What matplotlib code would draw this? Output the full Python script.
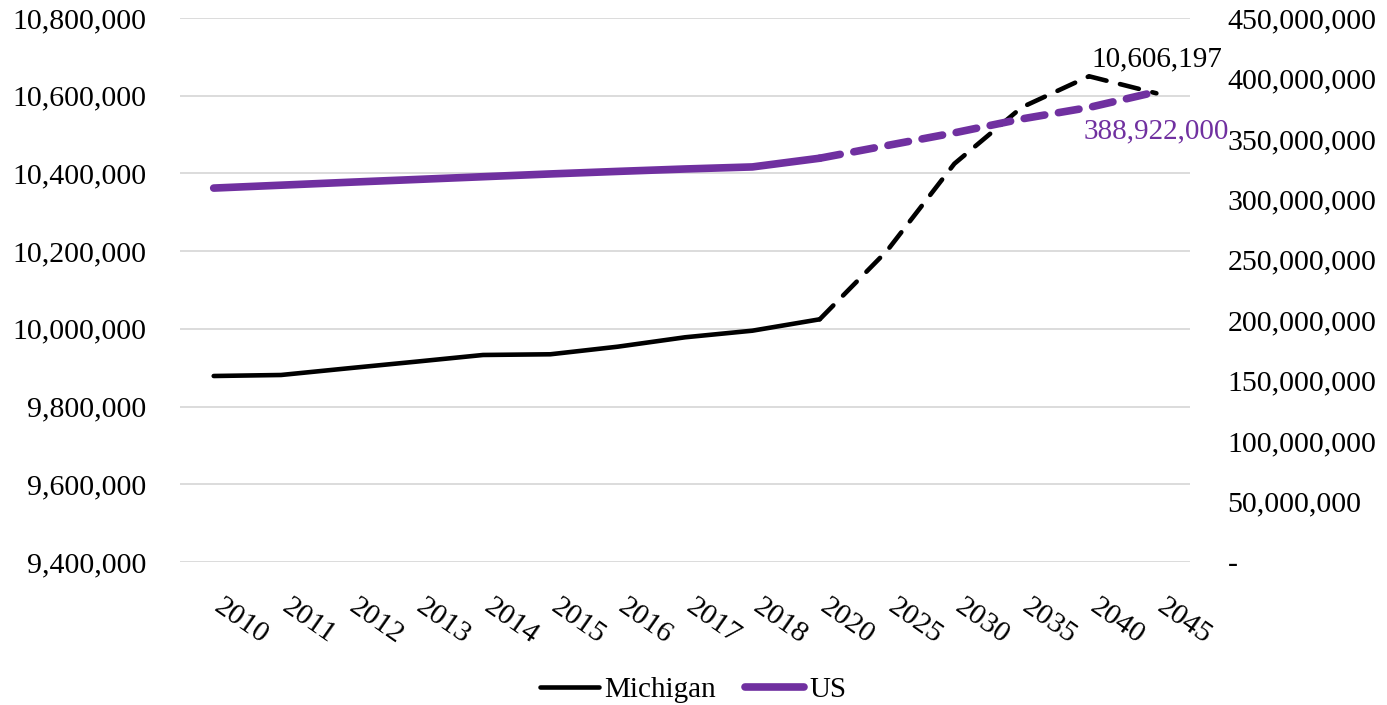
import matplotlib
matplotlib.use("Agg")
import matplotlib.pyplot as plt
from matplotlib.ticker import FuncFormatter, MultipleLocator
from matplotlib.transforms import ScaledTranslation

years = ["2010", "2011", "2012", "2013", "2014", "2015", "2016", "2017", "2018",
         "2020", "2025", "2030", "2035", "2040", "2045"]
michigan = [9878700, 9881300, 9898600, 9915500, 9932800, 9934600, 9954100, 9978300,
            9995300, 10024600, 10201000, 10425000, 10570000, 10650000, 10606197]
us = [309300000, 311700000, 314100000, 316400000, 318700000, 321000000, 323100000,
      325100000, 326800000, 334000000, 344500000, 355000000, 366500000, 376000000,
      388922000]
# last actual year; points after it are projections
split = 9

PURPLE = "#7030A0"
plt.rcParams["font.family"] = ["Liberation Serif", "DejaVu Serif"]
plt.rcParams["lines.scale_dashes"] = False

fig = plt.figure(figsize=(13.87, 7.05), dpi=100)
ax = fig.add_axes([0.1298, 0.2028, 0.7282, 0.7717])
ax2 = ax.twinx()

x = list(range(len(years)))
MI_LW, US_LW = 3.3, 5.5

ax.plot(x[:split + 1], michigan[:split + 1], color="black", lw=MI_LW,
        solid_capstyle="round", solid_joinstyle="round", zorder=3)
ax.plot(x[split:], michigan[split:], color="black", lw=MI_LW, dashes=(14, 10),
        dash_capstyle="round", zorder=3)

ax2.plot(x[:split + 1], us[:split + 1], color=PURPLE, lw=US_LW,
         solid_capstyle="round", solid_joinstyle="round", zorder=3)
ax2.plot(x[split:], us[split:], color=PURPLE, lw=US_LW, dashes=(15, 10),
         dash_capstyle="round", zorder=3)

ax.set_xlim(-0.5, len(years) - 0.5)
ax.set_ylim(9400000, 10800000)
ax.yaxis.set_major_locator(MultipleLocator(200000))
ax2.set_ylim(0, 450000000)
ax2.yaxis.set_major_locator(MultipleLocator(50000000))

ax.yaxis.set_major_formatter(FuncFormatter(lambda v, p: f"{v:,.0f}"))
ax2.yaxis.set_major_formatter(FuncFormatter(lambda v, p: "-" if v == 0 else f"{v:,.0f}"))

ax.grid(axis="y", color="#d9d9d9", lw=1.3)
ax.set_axisbelow(True)
for a in (ax, ax2):
    for s in a.spines.values():
        s.set_visible(False)
    a.tick_params(length=0, labelsize=21.5)
ax.tick_params(axis="y", pad=24)
ax2.tick_params(axis="y", pad=27)

ax.set_xticks(x)
ax.set_xticklabels(years, rotation=-35, ha="left", va="top",
                   rotation_mode="anchor")
ax.tick_params(axis="x", pad=23)
shift = ScaledTranslation(11 / 100, 0, fig.dpi_scale_trans)
for lbl in ax.get_xticklabels():
    lbl.set_transform(lbl.get_transform() + shift)

# value labels at the last projection year
ax.annotate(f"{michigan[-1]:,}", (x[-1], michigan[-1]), xytext=(0, 15),
            textcoords="offset points", ha="center", va="bottom", fontsize=21)
ax2.annotate(f"{us[-1]:,}", (x[-1], us[-1]), xytext=(0, -19),
             textcoords="offset points", ha="center", va="top", fontsize=21,
             color=PURPLE, zorder=5)

h1, = ax.plot([], [], color="black", lw=MI_LW, solid_capstyle="round")
h2, = ax.plot([], [], color=PURPLE, lw=US_LW, solid_capstyle="round")
fig.legend([h1, h2], ["Michigan", "US"], loc="lower center",
           bbox_to_anchor=(0.5, -0.035), ncol=2, frameon=False, fontsize=21,
           handlelength=2.0, handletextpad=0.2, columnspacing=1.0)

fig.savefig("out.png", dpi=100)
